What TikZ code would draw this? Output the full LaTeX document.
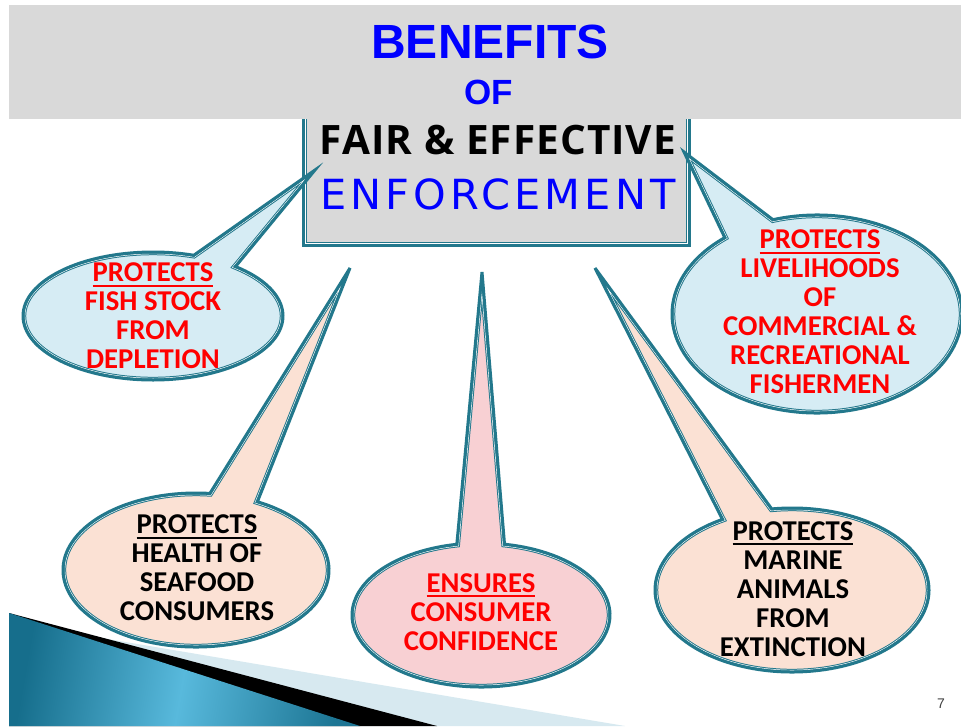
\documentclass[tikz,border=0pt]{standalone}
\usepackage{fontspec}
\setmainfont{Carlito}
\newfontfamily\arialf{Liberation Sans}
\newfontfamily\osans{Open Sans}
\newfontfamily\dvs{DejaVu Sans}
\usetikzlibrary{calc}
\definecolor{bord}{RGB}{35,120,140}
\definecolor{hdr}{RGB}{217,217,217}
\definecolor{lblue}{RGB}{214,236,244}
\definecolor{peach}{RGB}{251,225,212}
\definecolor{pinkf}{RGB}{248,208,211}
\definecolor{tblue}{RGB}{0,0,255}
\definecolor{tred}{RGB}{255,0,0}
\definecolor{decolb}{RGB}{215,233,240}
\definecolor{decodk}{RGB}{22,110,140}
\definecolor{decolt}{RGB}{88,185,220}
\definecolor{pnum}{RGB}{64,64,64}
\newcommand{\undl}[1]{\setbox0=\hbox{#1}\rlap{\rule[-5pt]{\wd0}{2pt}}\box0}
\newcommand{\dblshape}[2]{%
  \fill[#1] #2;
  \begin{scope}
    \clip #2;
    \draw[bord, line width=6.4] #2;
    \draw[white, line width=4.4] #2;
    \draw[bord, line width=3] #2;
  \end{scope}
  \draw[bord, line width=3] #2;
}
\tikzset{
  bubtext/.style={align=center, inner sep=0pt, font=\fontsize{28.7}{29}\selectfont\bfseries},
  redt/.style={bubtext, text=tred},
  blkt/.style={bubtext, text=black}
}
\begin{document}
\begin{tikzpicture}[x=1pt,y=-1pt]
\useasboundingbox (0,0) rectangle (961,726);
\fill[white] (0,0) rectangle (961,726);
% bottom-left decoration
\fill[decolb] (9,613) -- (60,631) -- (625,726) -- (9,726) -- cycle;
\fill[black] (9,613) -- (437,726) -- (9,726) -- cycle;
\shade[left color=decodk, right color=decodk!90!decolt, middle color=decolt, shading angle=80]
  (9,613) -- (360,726) -- (9,726) -- cycle;
% central box
\dblshape{hdr}{(303.5,100) rectangle (689,245.5)}
\node[anchor=base, font=\osans\bfseries\fontsize{40.5}{40}\selectfont\addfontfeatures{LetterSpace=2.6}] (fair) at (498,154) {FAIR \& EFFECTIVE};
\node[anchor=base, text=tblue, font=\dvs\fontsize{41.5}{41}\selectfont\addfontfeatures{LetterSpace=10}] (enf) at (498,209) {ENFORCEMENT};
% header
\fill[hdr] (9,5) rectangle (961,119);
\node[anchor=base, text=tblue, font=\arialf\bfseries\fontsize{48}{48}\selectfont] (ben) at (490,58) {BENEFITS};
\node[anchor=base, text=tblue, font=\arialf\bfseries\fontsize{35}{35}\selectfont] (of) at (489,104) {OF};
% bubbles
\dblshape{lblue}{($(153,316)+(288.3:130 and 64)$) -- (315,170) -- ($(153,316)+(309.4:130 and 64)$) arc[start angle=309.4, end angle=648.3, x radius=130, y radius=64] -- cycle}
\dblshape{lblue}{($(817,314)+(230.5:145 and 99)$) -- (684,152) -- ($(817,314)+(252.3:145 and 99)$) arc[start angle=252.3, end angle=590.5, x radius=145, y radius=99] -- cycle}
\dblshape{peach}{($(196,570)+(276:133 and 77)$) -- (350,268) -- ($(196,570)+(297.5:133 and 77)$) arc[start angle=297.5, end angle=636, x radius=133, y radius=77] -- cycle}
\dblshape{pinkf}{($(481,615)+(259.2:129 and 72)$) -- (482,272) -- ($(481,615)+(280.5:129 and 72)$) arc[start angle=280.5, end angle=619.2, x radius=129, y radius=72] -- cycle}
\dblshape{peach}{($(792,590)+(239.5:137 and 82)$) -- (595,268) -- ($(792,590)+(261.5:137 and 82)$) arc[start angle=261.5, end angle=599.5, x radius=137, y radius=82] -- cycle}
% bubble texts
\node[redt] (t1) at (153,316) {\undl{PROTECTS}\\FISH STOCK\\FROM\\DEPLETION};
\node[redt] (t2) at (820,312) {\undl{PROTECTS}\\LIVELIHOODS\\OF\\COMMERCIAL \&\\RECREATIONAL\\FISHERMEN};
\node[blkt] (t3) at (197,568) {\undl{PROTECTS}\\HEALTH OF\\SEAFOOD\\CONSUMERS};
\node[redt] (t4) at (481,612) {\undl{ENSURES}\\CONSUMER\\CONFIDENCE};
\node[blkt] (t5) at (793,589) {\undl{PROTECTS}\\MARINE\\ANIMALS\\FROM\\EXTINCTION};
% page number
\node[anchor=base, text=pnum, font=\arialf\fontsize{14}{14}\selectfont] (pg) at (941,708) {7};
\end{tikzpicture}
\end{document}
